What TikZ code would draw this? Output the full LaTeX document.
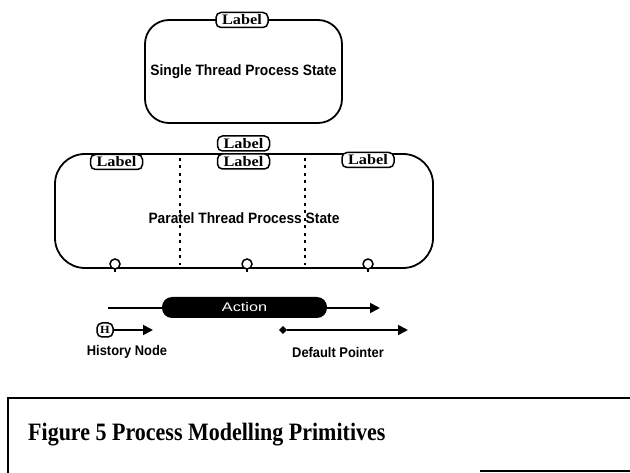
\documentclass[tikz,border=0pt]{standalone}
\usepackage{fontspec}
\setmainfont{Liberation Serif}
\newfontfamily\condsans[FakeStretch=0.92]{Liberation Sans}
\newfontfamily\widesans[FakeStretch=1.3]{Liberation Sans}
\newfontfamily\tagserif[FakeStretch=1.12]{Liberation Serif}
\newfontfamily\capserif[FakeStretch=0.88]{Liberation Serif}
\usetikzlibrary{arrows.meta}
\begin{document}
\begin{tikzpicture}[x=1pt,y=-1pt,
  statebox/.style={draw, line width=1.8pt, rounded corners=#1, inner sep=0pt},
  tag/.style={draw, line width=1.5pt, rounded corners=5pt, fill=white, inner sep=0pt,
     minimum width=52pt, minimum height=15pt, font=\tagserif\bfseries\fontsize{14.5}{14.5}\selectfont},
  stext/.style={font=\condsans\bfseries\fontsize{15}{15}\selectfont},
  smalltext/.style={font=\condsans\bfseries\fontsize{14}{14}\selectfont},
  divider/.style={line width=1.8pt, dash pattern=on 3pt off 4.5pt},
  pin/.style={draw, circle, line width=1.5pt, fill=white, inner sep=0pt, minimum size=10pt},
  arr/.style={line width=1.8pt, -{Triangle[length=10pt,width=10pt]}},
  frame/.style={line width=1.3pt}]
\useasboundingbox (0,0) rectangle (630,473);
% single thread state
\node[statebox=24pt, minimum width=197pt, minimum height=103pt, stext] (single) at (243.5,71.5) {Single Thread Process State};
\node[tag] (slabel) at (242,20) {Label};
% parallel thread state
\node[statebox=30pt, minimum width=378pt, minimum height=114pt] (par) at (244,211) {};
\node[stext] (ptext) at (244,218) {Paratel Thread Process State};
\node[tag] (ptop) at (243.5,143.5) {Label};
\node[tag] (pmid) at (243.5,161.5) {Label};
\node[tag] (pleft) at (116.5,162) {Label};
\node[tag] (pright) at (368,160) {Label};
\coordinate (d1t) at (180,158); \coordinate (d1b) at (180,265);
\coordinate (d2t) at (305,158); \coordinate (d2b) at (305,265);
\draw[divider] (d1t) -- (d1b);
\draw[divider] (d2t) -- (d2b);
\foreach \n/\x in {pa/115,pb/247,pc/368}{
  \coordinate (\n t) at (\x,268); \coordinate (\n b) at (\x,272);
  \draw[line width=1.5pt] (\n t) -- (\n b);
  \node[pin] (\n) at (\x,264) {};
}
% action
\coordinate (astart) at (108,308);
\coordinate (aend) at (380,308);
\draw[arr] (astart) -- (aend);
\node[fill=black, rounded corners=10pt, minimum width=165pt, minimum height=21pt, inner sep=0pt,
  text=white, font=\widesans\fontsize{12.5}{12.5}\selectfont] (action) at (244.5,307.5) {Action};
% history node
\node[draw, line width=1.5pt, rounded corners=5pt, inner sep=0pt, minimum width=16pt, minimum height=14pt,
  font=\tagserif\bfseries\fontsize{11}{11}\selectfont] (hist) at (105,330) {H};
\coordinate (hend) at (153,330);
\draw[arr] (hist) -- (hend);
\node[smalltext] (htext) at (127,352) {History Node};
% default pointer
\node[draw, fill=black, inner sep=0pt, rotate=45, minimum width=5pt, minimum height=5pt] (dstart) at (283,330) {};
\coordinate (dend) at (408,330);
\draw[arr] (dstart) -- (dend);
\node[smalltext] (dtext) at (338,352) {Default Pointer};
% caption frame
\coordinate (ftl) at (8,398); \coordinate (ftr) at (630,398); \coordinate (fbl) at (8,473);
\coordinate (fbs) at (480,471); \coordinate (fbe) at (630,471);
\draw[frame] (fbl) -- (ftl) -- (ftr);
\draw[frame] (fbs) -- (fbe);
\node[anchor=base west, inner sep=0pt, font=\capserif\bfseries\fontsize{25}{25}\selectfont] (cap) at (28,440) {Figure 5 Process Modelling Primitives};
\end{tikzpicture}
\end{document}
